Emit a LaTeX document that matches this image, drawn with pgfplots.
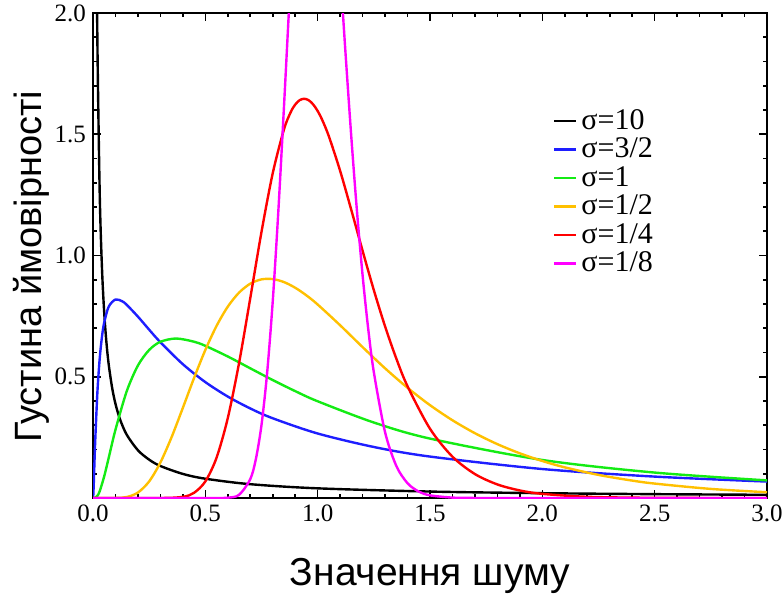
\documentclass[border=0pt]{standalone}
\usepackage{fontspec}
\setmainfont{Liberation Serif}
\newfontfamily\labelfont{Liberation Sans}
\usepackage{pgfplots}
\pgfplotsset{compat=1.18}
\definecolor{cblue}{RGB}{30,30,255}
\definecolor{cgreen}{RGB}{20,235,20}
\definecolor{corange}{RGB}{255,192,0}
\definecolor{cred}{RGB}{255,0,0}
\definecolor{cmag}{RGB}{255,0,255}
\begin{document}
\begin{tikzpicture}
\begin{axis}[
  scale only axis, width=337pt, height=242.5pt,
  xmin=0, xmax=3, ymin=0, ymax=2,
  axis line style={line width=0.9pt},
  xtick={0,0.5,1,1.5,2,2.5,3},
  ytick={0.5,1,1.5,2},
  minor x tick num=4,
  minor ytick={0.1,0.2,0.3,0.4,0.6,0.7,0.8,0.9,1.1,1.2,1.3,1.4,1.6,1.7,1.8,1.9},
  tick align=inside,
  major tick length=4pt, minor tick length=2pt,
  every tick/.style={black, line width=0.8pt},
  /pgf/number format/assume math mode=true,
  tick label style={font=\fontsize{12.5}{14}\selectfont},
  xticklabel style={/pgf/number format/.cd, fixed, fixed zerofill, precision=1},
  yticklabel style={/pgf/number format/.cd, fixed, fixed zerofill, precision=1},
  xlabel={\labelfont\fontsize{19.5}{22}\selectfont Значення шуму},
  ylabel={\labelfont\fontsize{19}{22}\selectfont Густина ймовірності},
  xlabel style={at={(axis description cs:0.5,-0.180)}, anchor=base, inner sep=0pt},
  ylabel style={at={(axis description cs:-0.0757,0.477)}, anchor=base, inner sep=0pt},
  legend style={draw=none, fill=none, at={(axis description cs:0.682,0.81)}, anchor=north west,
    font=\fontsize{15}{17}\selectfont, row sep=-1.2pt, inner sep=0pt,
    /tikz/every even column/.append style={column sep=4pt}},
  legend cell align=left,
  legend image code/.code={\draw[#1] (0pt,0pt) -- (11pt,0pt);},
  every axis plot/.append style={line width=1.2pt},
]
\addplot[black, smooth] coordinates {
(0.008,4.44)(0.01,3.588)(0.015,2.435)(0.02,1.848)(0.03,1.2505)(0.04,0.947)(0.05,0.7629)
(0.06,0.6391)(0.07,0.5501)(0.085,0.4553)(0.1,0.3885)(0.12,0.3251)(0.15,0.2612)(0.2,0.1969)
(0.25,0.1581)(0.3,0.1320)(0.4,0.0993)(0.5,0.0796)(0.7,0.0570)(1,0.0399)(1.5,0.0266)
(2,0.0199)(2.5,0.0159)(3,0.0132)};
\addlegendentry{σ=10}
\addplot[cblue, smooth] coordinates {
(0,0)(0.001,0.0066)(0.003,0.0490)(0.005,0.1040)(0.01,0.2388)(0.02,0.4434)(0.03,0.5765)
(0.04,0.6656)(0.05,0.7240)(0.07,0.7891)(0.1,0.8186)(0.13,0.8112)(0.15,0.7968)(0.2,0.7479)
(0.25,0.6941)(0.3,0.6424)(0.4,0.5517)(0.5,0.4780)(0.6,0.4183)(0.7,0.3693)(0.8,0.3288)
(1.0,0.2660)(1.25,0.2104)(1.5,0.1709)(2.0,0.1195)(2.5,0.0883)(3.0,0.0678)};
\addlegendentry{σ=3/2}
\addplot[cgreen, smooth] coordinates {
(0,0)(0.01,0.0010)(0.02,0.0095)(0.03,0.0284)(0.05,0.0898)(0.07,0.1660)(0.1,0.2815)
(0.15,0.4399)(0.2,0.5464)(0.25,0.6104)(0.3,0.6442)(0.37,0.6577)(0.45,0.6445)(0.5,0.6275)
(0.6,0.5836)(0.7,0.5348)(0.8,0.4864)(0.9,0.4408)(1.0,0.3989)(1.25,0.3113)(1.5,0.2450)
(2.0,0.1569)(2.5,0.1049)(3.0,0.0727)};
\addlegendentry{σ=1}
\addplot[corange, smooth] coordinates {
(0,0)(0.1,0.0002)(0.15,0.0040)(0.2,0.0225)(0.25,0.0684)(0.3,0.1465)(0.35,0.2514)
(0.4,0.3720)(0.45,0.4954)(0.5,0.6104)(0.55,0.7098)(0.6,0.7892)(0.65,0.8469)(0.7,0.8838)
(0.75,0.9016)(0.8,0.9028)(0.85,0.8904)(0.9,0.8670)(0.95,0.8355)(1.0,0.7979)(1.1,0.7123)
(1.2,0.6222)(1.3,0.5348)(1.4,0.4545)(1.5,0.3829)(1.6,0.3206)(1.7,0.2672)(1.8,0.2221)
(1.9,0.1842)(2.0,0.1526)(2.1,0.1264)(2.25,0.0952)(2.4,0.0718)(2.5,0.0595)(2.75,0.0375)
(3.0,0.0238)};
\addlegendentry{σ=1/2}
\addplot[cred, smooth] coordinates {
(0,0)(0.3,0)(0.4,0.0048)(0.45,0.0216)(0.5,0.0684)(0.55,0.1663)(0.6,0.3298)(0.65,0.5563)
(0.7,0.8241)(0.75,1.0975)(0.8,1.3393)(0.85,1.5199)(0.88,1.5911)(0.9,1.6224)(0.92,1.6407)
(0.94,1.6464)(0.96,1.6403)(0.98,1.6230)(1.0,1.5958)(1.02,1.5596)(1.05,1.4911)(1.1,1.3490)
(1.15,1.1868)(1.2,1.0193)(1.25,0.8571)(1.3,0.7078)(1.35,0.5751)(1.4,0.4608)(1.5,0.2855)
(1.6,0.1703)(1.7,0.0987)(1.8,0.0559)(1.9,0.0311)(2.0,0.0171)(2.2,0.0050)(2.5,0.0008)(3.0,0)};
\addlegendentry{σ=1/4}
\addplot[cmag, smooth] coordinates {
(0,0)(0.5,0)(0.55,0.0001)(0.6,0.0013)(0.65,0.0130)(0.7,0.0778)(0.725,0.1609)(0.75,0.3012)
(0.775,0.5152)(0.8,0.8107)(0.825,1.1838)(0.85,1.6127)(0.875,2.0616)(0.9,2.486)(0.95,3.088)
(1.0,3.1915)(1.05,2.817)(1.1,2.1694)(1.125,1.8199)(1.15,1.4853)(1.175,1.1818)(1.2,0.9181)
(1.225,0.6975)(1.25,0.5188)(1.3,0.2713)(1.35,0.1325)(1.4,0.0609)(1.45,0.0265)(1.5,0.0110)
(1.6,0.0017)(1.7,0.0002)(1.8,0)(3.0,0)};
\addlegendentry{σ=1/8}
\end{axis}
\pgfresetboundingbox
\path (current axis.south west) ++(-46.5pt,-48.5pt) coordinate (bbA);
\path (current axis.north east) ++(8.5pt,6.5pt) coordinate (bbB);
\path[use as bounding box] (bbA) rectangle (bbB);
\end{tikzpicture}
\end{document}
